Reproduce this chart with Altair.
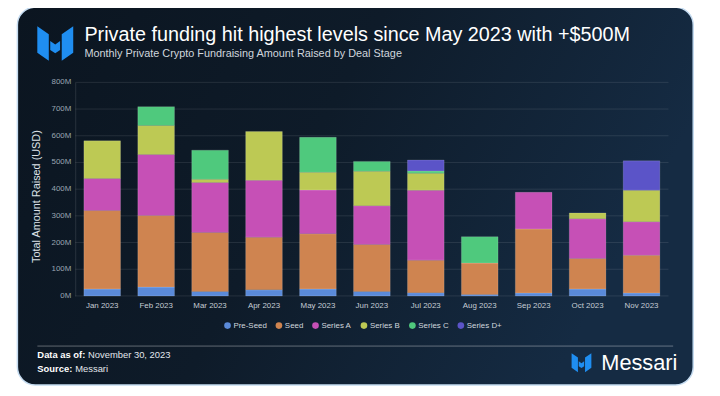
import altair as alt
import pandas as pd

months = ["Jan 2023", "Feb 2023", "Mar 2023", "Apr 2023", "May 2023", "Jun 2023",
          "Jul 2023", "Aug 2023", "Sep 2023", "Oct 2023", "Nov 2023"]
stages = ["Pre-Seed", "Seed", "Series A", "Series B", "Series C", "Series D+"]
stage_colors = ["#5a8ad9", "#cf8450", "#c650b6", "#bdc954", "#4fc97d", "#5b54c8"]

pre_seed = [26, 33, 17, 23, 26, 17, 12, 5, 11, 26, 11]
seed = [294, 268, 221, 197, 207, 176, 122, 118, 240, 114, 141]
series_a = [120, 229, 187, 213, 164, 145, 262, 0, 137, 149, 126]
series_b = [141, 108, 12, 183, 66, 129, 64, 0, 0, 22, 118]
series_c = [0, 71, 109, 0, 131, 37, 8, 99, 0, 0, 0]
series_d = [0, 0, 0, 0, 0, 0, 41, 0, 0, 0, 110]

y_ticks = [0, 100, 200, 300, 400, 500, 600, 700, 800]
y_labels = ["0M", "100M", "200M", "300M", "400M", "500M", "600M", "700M", "800M"]

series = [pre_seed, seed, series_a, series_b, series_c, series_d]
rows = []
for r, (stage, vals) in enumerate(zip(stages, series)):
    for m, v in zip(months, vals):
        if v > 0:
            rows.append({"month": m, "stage": stage, "rank": r, "amount": v})
df = pd.DataFrame(rows)
grid_df = pd.DataFrame({"amount": y_ticks, "label": y_labels})

FONT = "Liberation Sans"
one = alt.Chart(pd.DataFrame({"k": [0]}))

y_axis = alt.Axis(title="Total Amount Raised (USD)", values=y_ticks, labels=False,
                  ticks=False, grid=False, domain=True, domainColor="#ffffff",
                  domainOpacity=0.12,
                  titleColor="#dde2e8", titleFont=FONT, titleFontSize=11,
                  titleFontWeight="normal", titleAngle=270, titleX=-39, titleY=115,
                  titleAlign="center", titleBaseline="middle", zindex=1)
y_scale = alt.Scale(domain=[0, 800], nice=False)

card = one.mark_rect(
    cornerRadius=18,
    stroke="#c4dbf0",
    strokeWidth=1.5,
    color=alt.LinearGradient(
        gradient="linear",
        stops=[alt.GradientStop(color="#0b1520", offset=0),
               alt.GradientStop(color="#0e1b29", offset=0.5),
               alt.GradientStop(color="#152b43", offset=1)],
        x1=0, x2=1, y1=0, y2=0.3),
).encode(x=alt.value(-58.5), x2=alt.value(625), y=alt.value(-76), y2=alt.value(306))

grid = alt.Chart(grid_df).mark_rule(
    color="#ffffff", opacity=0.1, strokeWidth=1
).encode(y=alt.Y("amount:Q", scale=y_scale, axis=y_axis), x=alt.value(0), x2=alt.value(600))

ylab = alt.Chart(grid_df).mark_text(
    align="right", baseline="middle", font=FONT, fontSize=8, color="#9aa5b1"
).encode(y=alt.Y("amount:Q", scale=y_scale, axis=y_axis), x=alt.value(-4), text="label:N")

bars = alt.Chart(df).mark_bar(stroke="#ffffff", strokeOpacity=0.3, strokeWidth=0.5).encode(
    x=alt.X("month:N", sort=months,
            scale=alt.Scale(paddingInner=0.32, paddingOuter=0.16),
            axis=alt.Axis(title=None, labelAngle=0, labelColor="#c5ccd4", labelFontSize=8,
                          labelFont=FONT, labelPadding=6, ticks=False, domain=False,
                          grid=False, zindex=1)),
    y=alt.Y("amount:Q", stack="zero", scale=y_scale, axis=y_axis),
    color=alt.Color("stage:N", scale=alt.Scale(domain=stages, range=stage_colors),
                    legend=alt.Legend(orient="none", legendX=150, legendY=242,
                                      direction="horizontal", title=None,
                                      symbolType="circle", symbolSize=45,
                                      symbolStrokeWidth=0, symbolOpacity=1,
                                      labelColor="#d0d6dd", labelFontSize=8,
                                      labelFont=FONT, labelOffset=2, columnPadding=8)),
    order=alt.Order("rank:Q", sort="ascending"),
)

logo_path = ("M-1,-0.96L-0.36,-0.52L-0.36,0.96L-1,0.52Z "
             "M0.36,-0.52L1,-0.96L1,0.52L0.36,0.96Z "
             "M-0.28,-0.14L0,0.05L0.27,-0.14L0.27,0.36L0,0.54L-0.28,0.36Z")

logo_top = one.mark_point(shape=logo_path, filled=True, color="#1f8ef1", opacity=1,
                          size=1320, strokeWidth=0).encode(x=alt.value(-20.2), y=alt.value(-39.3))
logo_bot = one.mark_point(shape=logo_path, filled=True, color="#1f8ef1", opacity=1,
                          size=400, strokeWidth=0).encode(x=alt.value(512), y=alt.value(283.5))


def txt(s, x, y, size, color="#ffffff", weight="normal"):
    return one.mark_text(text=s, align="left", baseline="alphabetic", font=FONT,
                         fontSize=size, color=color, fontWeight=weight).encode(
        x=alt.value(x), y=alt.value(y))


title = txt("Private funding hit highest levels since May 2023 with +$500M", 9.3, -41.7, 20)
subtitle = txt("Monthly Private Crypto Fundraising Amount Raised by Deal Stage", 9.3, -26, 11, "#d0d6dd")

footer_line = one.mark_rule(color="#ffffff", opacity=0.35, strokeWidth=1).encode(
    x=alt.value(-38.3), x2=alt.value(604.7), y=alt.value(266.7))

data_as_of_b = txt("Data as of:", -38.3, 279, 9.5, "#ffffff", "bold")
data_as_of = txt("November 30, 2023", 13, 279, 9.5, "#e3e7ec")
source_b = txt("Source:", -38.3, 293, 9.5, "#ffffff", "bold")
source = txt("Messari", 0, 293, 9.5, "#e3e7ec")
brand = txt("Messari", 532, 291.3, 22, "#ffffff", 500)

chart = alt.layer(
    card, grid, ylab, bars, logo_top, title, subtitle, footer_line,
    data_as_of_b, data_as_of, source_b, source, logo_bot, brand
).properties(
    width=600, height=216,
    padding={"left": 68, "top": 73, "right": 44, "bottom": 99},
    autosize="none",
    background="#ffffff",
).configure_view(stroke=None)

chart.save("out.html", embed_options={"renderer": "svg", "actions": False})
